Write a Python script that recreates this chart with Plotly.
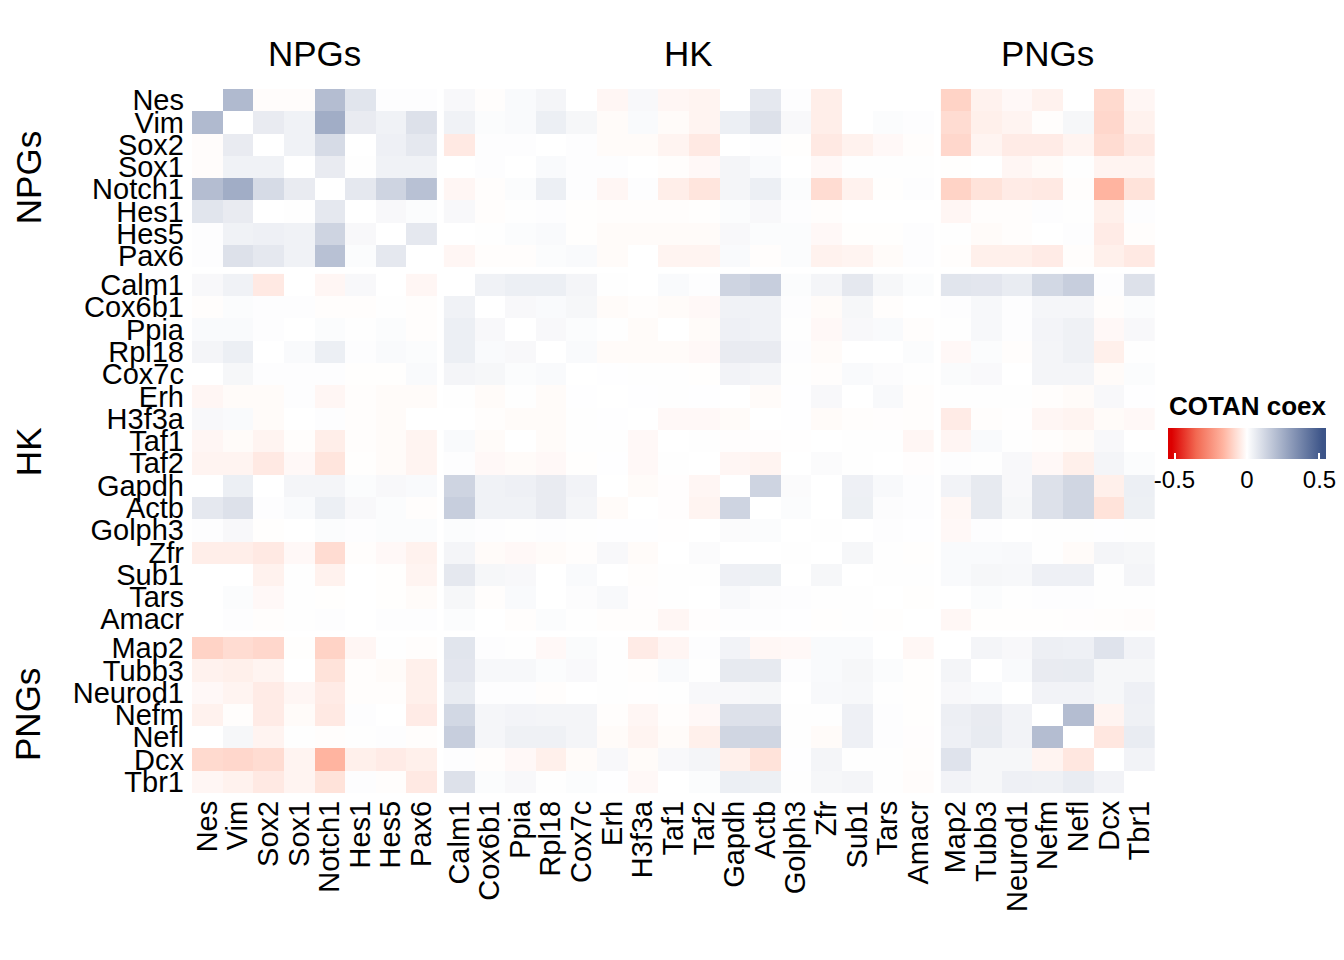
import plotly.graph_objects as go
from plotly.subplots import make_subplots

groups = ["NPGs", "HK", "PNGs"]
npg_genes = ["Nes", "Vim", "Sox2", "Sox1", "Notch1", "Hes1", "Hes5", "Pax6"]
hk_genes = ["Calm1", "Cox6b1", "Ppia", "Rpl18", "Cox7c", "Erh", "H3f3a", "Taf1",
            "Taf2", "Gapdh", "Actb", "Golph3", "Zfr", "Sub1", "Tars", "Amacr"]
png_genes = ["Map2", "Tubb3", "Neurod1", "Nefm", "Nefl", "Dcx", "Tbr1"]

# COTAN coexpression values (symmetric matrix), split by gene group
npg_npg = [
    [0, .21, -.008, -.008, .20, .08, .005, .005],
    [.21, 0, .06, .04, .25, .06, .04, .09],
    [-.008, .06, 0, .04, .11, 0, .045, .07],
    [-.008, .04, .04, 0, .06, .003, .04, .04],
    [.20, .25, .11, .06, 0, .07, .13, .19],
    [.08, .06, 0, .003, .07, 0, .02, .01],
    [.005, .04, .045, .04, .13, .02, 0, .07],
    [.005, .09, .07, .04, .19, .01, .07, 0],
]

npg_hk = [
    [.02, -.005, .015, .03, 0, -.02, .02, -.02, -.025, 0, .07, .005, -.04, 0, 0, 0],
    [.04, .01, .015, .05, .025, -.01, .015, -.01, -.025, .05, .09, .02, -.04, 0, .01, .005],
    [-.05, .005, .005, 0, .005, -.01, -.01, -.025, -.05, 0, .005, -.003, -.05, -.03, -.015, -.005],
    [0, .005, 0, .015, .005, .005, 0, -.005, -.015, .03, .015, 0, -.015, .003, .003, .003],
    [-.02, -.005, .01, .05, .005, -.02, .005, -.04, -.06, .03, .05, .01, -.08, -.03, -.003, .005],
    [.02, -.005, .003, .005, -.003, -.005, -.005, -.005, -.003, .01, .02, .005, -.005, 0, 0, 0],
    [0, .003, .01, .015, -.003, -.01, -.01, -.01, -.01, .02, .01, .01, -.015, -.003, -.003, .005],
    [-.02, -.005, -.005, .01, .015, -.01, 0, -.025, -.025, .015, -.005, .01, -.03, -.025, -.01, .005],
]

npg_png = [
    [-.10, -.03, -.015, -.03, 0, -.085, -.02],
    [-.08, -.035, -.025, -.005, .025, -.09, -.03],
    [-.09, -.025, -.045, -.045, -.025, -.08, -.05],
    [-.003, 0, -.02, -.01, .003, -.025, -.025],
    [-.10, -.065, -.045, -.05, -.005, -.165, -.065],
    [-.02, -.005, -.005, .005, .003, -.035, .005],
    [.003, -.01, -.005, 0, .005, -.045, -.005],
    [-.005, -.035, -.035, -.045, -.005, -.035, -.05],
]

hk_hk = [
    [0, .04, .05, .05, .03, .003, 0, .015, .005, .13, .15, .01, .03, .07, .025, .01],
    [.04, 0, .02, .015, .025, -.01, -.005, -.01, -.015, .04, .04, .005, -.01, .025, -.005, 0],
    [.05, .02, 0, .02, .01, .003, -.01, 0, -.01, .045, .04, .004, -.015, .02, .015, -.005],
    [.05, .015, .02, 0, .015, -.01, -.01, -.01, -.015, .06, .06, .005, -.01, 0, 0, .01],
    [.03, .025, .01, .015, 0, .002, .003, .004, -.003, .035, .03, .003, -.005, .015, .008, .004],
    [.003, -.01, .003, -.01, .002, 0, .002, .004, .002, 0, -.01, .002, .02, 0, .018, -.005],
    [0, -.005, -.01, -.01, .003, .002, 0, -.015, -.015, -.01, 0, .002, -.01, -.005, -.004, -.005],
    [.015, -.01, 0, -.01, .004, .004, -.015, 0, .003, -.004, -.004, -.002, 0, .004, .004, -.02],
    [.005, -.015, -.01, -.015, -.003, .002, -.015, .003, 0, -.02, -.025, 0, .012, .003, 0, -.004],
    [.13, .04, .045, .06, .035, 0, -.01, -.004, -.02, 0, .13, .012, 0, .045, .018, .005],
    [.15, .04, .04, .06, .03, -.01, 0, -.004, -.025, .13, 0, .01, 0, .047, .008, .005],
    [.01, .005, .004, .005, .003, .002, .002, -.002, 0, .012, .01, 0, .004, 0, .005, .002],
    [.03, -.01, -.015, -.01, -.005, .02, -.01, 0, .012, 0, 0, .004, 0, .025, .003, -.003],
    [.07, .025, .02, 0, .015, 0, -.005, .004, .003, .045, .047, 0, .025, 0, .003, .003],
    [.025, -.005, .015, 0, .008, .018, -.004, .004, 0, .018, .008, .005, .003, .003, 0, -.003],
    [.01, 0, -.005, .01, .004, -.005, -.005, -.02, -.004, .005, .005, .002, -.003, .003, -.003, 0],
]

hk_png = [
    [.08, .075, .058, .12, .15, .005, .09],
    [.005, .022, .005, .028, .028, -.005, .01],
    [.003, .022, .005, .032, .042, -.015, .02],
    [-.015, .01, -.005, .03, .043, -.035, .003],
    [.013, .017, 0, .03, .03, -.01, .01],
    [.003, .003, .003, -.005, -.01, .02, .002],
    [-.045, -.005, -.002, -.02, -.025, -.01, -.015],
    [-.022, .015, .004, -.005, -.01, .02, 0],
    [.005, .003, .02, -.015, -.035, .03, .01],
    [.035, .065, .02, .09, .125, -.035, .05],
    [-.018, .065, .025, .09, .125, -.065, .047],
    [-.015, .005, 0, .003, .003, .002, .003],
    [.015, .015, .018, .003, -.01, .03, .025],
    [.015, .025, .022, .045, .045, .003, .03],
    [0, .01, .003, .005, .005, .003, .003],
    [-.018, -.003, -.003, -.003, -.004, -.005, -.008],
]

png_png = [
    [0, .03, .02, .048, .045, .085, .035],
    [.03, 0, .015, .06, .062, .025, .025],
    [.02, .015, 0, .035, .035, .025, .045],
    [.048, .06, .035, 0, .20, -.025, .042],
    [.045, .062, .035, .20, 0, -.055, .058],
    [.085, .025, .025, -.025, -.055, 0, .035],
    [.035, .025, .045, .042, .058, .035, 0],
]

legend_title = "COTAN coex"
legend_ticks = [-0.5, 0, 0.5]
legend_ticktext = ["-0.5", "0", "0.5"]


def transpose(m):
    return [list(r) for r in zip(*m)]


gene_sets = [npg_genes, hk_genes, png_genes]
blocks = {
    (0, 0): npg_npg, (0, 1): npg_hk, (0, 2): npg_png,
    (1, 0): transpose(npg_hk), (1, 1): hk_hk, (1, 2): hk_png,
    (2, 0): transpose(npg_png), (2, 1): transpose(hk_png), (2, 2): png_png,
}

FONT = "Liberation Sans, Arial, Helvetica, sans-serif"

# page offset of the html body (8px default margin) is compensated here:
# plot area in page pixels: x 192..1155, y 89..793
PX0, PX1, PY0, PY1 = 192, 1155, 89, 793
PW, PH = PX1 - PX0, PY1 - PY0
OFF = 8


def px(xp):
    return (xp - PX0) / PW


def py(yp):
    return (PY1 - yp) / PH


fig = make_subplots(
    rows=3, cols=3,
    column_widths=[len(g) for g in gene_sets],
    row_heights=[len(g) for g in gene_sets],
    horizontal_spacing=7 / PW,
    vertical_spacing=6.5 / PH,
)

for i in range(3):
    for j in range(3):
        fig.add_trace(
            go.Heatmap(
                z=blocks[(i, j)],
                x=gene_sets[j],
                y=gene_sets[i],
                coloraxis="coloraxis",
                hovertemplate="%{y} - %{x}: %{z}<extra></extra>",
            ),
            row=i + 1, col=j + 1,
        )
        fig.update_xaxes(
            showticklabels=(i == 2), tickangle=-90, ticks="",
            tickmode="array", tickvals=gene_sets[j], ticktext=gene_sets[j],
            showgrid=False, zeroline=False, showline=False, automargin=False,
            tickfont=dict(size=29, family=FONT, color="black"),
            ticklabelstandoff=1,
            row=i + 1, col=j + 1,
        )
        fig.update_yaxes(
            showticklabels=(j == 0), autorange="reversed", ticks="",
            tickmode="array", tickvals=gene_sets[i], ticktext=gene_sets[i],
            showgrid=False, zeroline=False, showline=False, automargin=False,
            tickfont=dict(size=29, family=FONT, color="black"),
            ticklabelstandoff=7,
            row=i + 1, col=j + 1,
        )

# colour ramp: red -> white -> blue (red side with warm, Lab-like tints)
lim = 0.545


def pos(v):
    return (v + lim) / (2 * lim)


colorscale = [
    [0.0, "rgb(220,0,0)"],
    [pos(-0.52), "rgb(220,0,0)"],
    [pos(-0.35), "rgb(242,105,82)"],
    [pos(-0.165), "rgb(255,180,160)"],
    [pos(-0.08), "rgb(255,220,210)"],
    [pos(0.0), "rgb(255,255,255)"],
    [pos(0.52), "rgb(60,84,136)"],
    [1.0, "rgb(60,84,136)"],
]

fig.update_layout(
    width=1344, height=960,
    margin=dict(l=PX0 - OFF, r=1344 - (PX1 - OFF), t=PY0 - OFF, b=960 - (PY1 - OFF)),
    paper_bgcolor="white", plot_bgcolor="white",
    font=dict(family=FONT, color="black"),
    coloraxis=dict(
        colorscale=colorscale, cmin=-lim, cmax=lim,
        colorbar=dict(
            orientation="h",
            x=px(1247), xanchor="center",
            y=py(428), yanchor="top", ypad=0, xpad=0,
            len=158, lenmode="pixels", thickness=31,
            outlinewidth=0,
            tickvals=legend_ticks, ticktext=legend_ticktext,
            tickfont=dict(size=24, family=FONT, color="black"),
            ticks="inside", ticklen=6, tickcolor="white", tickwidth=2,
        ),
    ),
)

# legend title
fig.add_annotation(
    text=f"<b>{legend_title}</b>", xref="paper", x=px(1248), xanchor="center",
    yref="paper", y=py(406), yanchor="middle", showarrow=False,
    font=dict(size=26, family=FONT, color="black"),
)

# group titles on top
for j, g in enumerate(groups):
    xref = "x domain" if j == 0 else f"x{j + 1} domain"
    fig.add_annotation(
        text=g, xref=xref, x=0.5, yref="paper", y=py(53), yanchor="middle",
        showarrow=False, font=dict(size=35, family=FONT, color="black"),
    )

# group titles on the left
for i, g in enumerate(groups):
    yidx = i * 3 + 1
    yref = "y domain" if yidx == 1 else f"y{yidx} domain"
    fig.add_annotation(
        text=g, xref="paper", x=px(28), xanchor="center",
        yref=yref, y=0.5, yanchor="middle", textangle=-90,
        showarrow=False, font=dict(size=35, family=FONT, color="black"),
    )

fig.write_html("out.html")
